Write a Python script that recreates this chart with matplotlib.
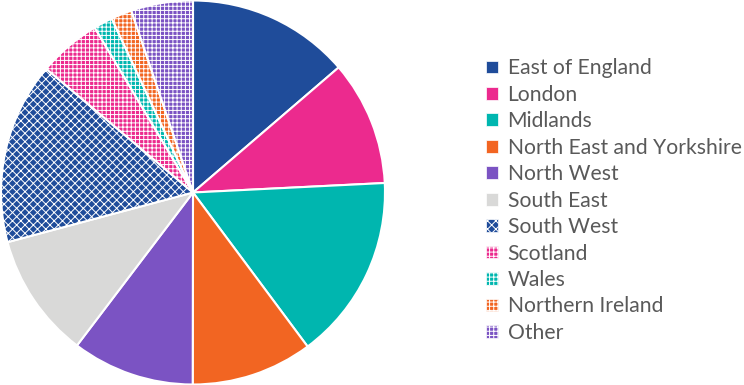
import matplotlib
matplotlib.use('Agg')
from matplotlib import pyplot as plt

plt.rcParams['font.family'] = ['Lato', 'DejaVu Sans']
plt.rcParams['hatch.linewidth'] = 0.7

# shares (%), clockwise from 12 o'clock
regions = ['East of England', 'London', 'Midlands', 'North East and Yorkshire',
           'North West', 'South East', 'South West', 'Scotland', 'Wales',
           'Northern Ireland', 'Other']
shares = [13.7, 10.5, 15.6, 10.2, 10.3, 10.5, 15.3, 5.3, 1.6, 1.75, 5.2]
colours = ['#1F4C9A', '#EC2A8E', '#00B6AF', '#F26522', '#7B53C3', '#D9D9D8',
           '#1F4C9A', '#EC2A8E', '#00B6AF', '#F26522', '#7B53C3']
hatches = [None, None, None, None, None, None, 'xxxx', '++++', '++++', '++++', '++++']

fig = plt.figure(figsize=(7.44, 3.85), dpi=100)
ax = fig.add_axes([1/744, 0, 384/744, 1])
wedges, _ = ax.pie(shares, colors=colours, startangle=90, counterclock=False,
                   radius=1.0,
                   wedgeprops=dict(edgecolor='white', linewidth=1.5))
for w, h in zip(wedges, hatches):
    if h:
        w.set_hatch(h)
ax.set_xlim(-1.0, 1.0)
ax.set_ylim(-1.0, 1.0)
ax.set_aspect('equal')
ax.axis('off')

leg = fig.legend(wedges, regions, loc='upper left', bbox_to_anchor=(478/744, 1 - 50/385),
                 frameon=False, fontsize=15.2, handlelength=0.55, handleheight=0.55,
                 handletextpad=0.45, labelspacing=0.305, borderaxespad=0)
for t in leg.get_texts():
    t.set_color('#595959')
for p in leg.get_patches():
    p.set_linewidth(0.5)

fig.savefig('out.png', dpi=100)
